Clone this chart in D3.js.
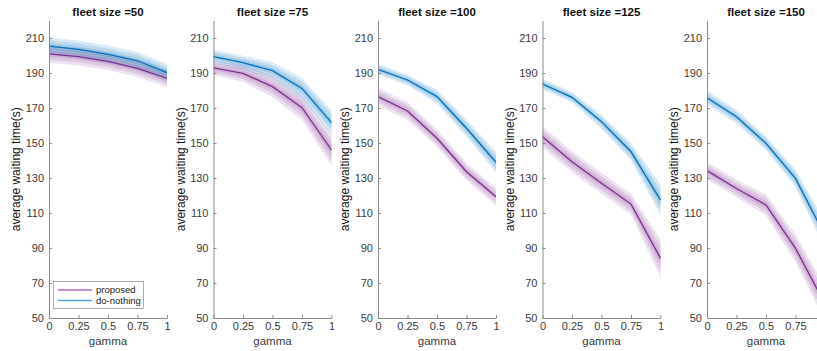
<!DOCTYPE html>
<html>
<head>
<meta charset="utf-8">
<script src="https://cdn.jsdelivr.net/npm/d3@7"></script>
<style>
  html, body { margin: 0; padding: 0; background: #fff; overflow: hidden; }
  svg { display: block; font-family: "Liberation Sans", Arial, Helvetica, sans-serif; }
</style>
</head>
<body>
<svg id="chart" width="817" height="351"></svg>
<script>
// gamma values shared by every panel
const gammas = [0, 0.25, 0.5, 0.75, 1];
const gammaTicks = ["0", "0.25", "0.5", "0.75", "1"];
const fleetSizes = [50, 75, 100, 125, 150];
const yTicks = [50, 70, 90, 110, 130, 150, 170, 190, 210];

// mean waiting time (s), one row per fleet size
const proposedMean = [
  [200.9, 199.3, 196.7, 192.7, 187.0],
  [192.9, 189.8, 182.2, 170.2, 146.0],
  [176.5, 168.3, 152.7, 133.6, 119.3],
  [153.6, 139.3, 127.0, 115.1, 84.1],
  [134.2, 124.0, 114.6, 89.8, 58.0]
];
const doNothingMean = [
  [205.4, 203.5, 200.7, 197.0, 190.2],
  [199.3, 195.9, 191.3, 181.2, 161.6],
  [192.1, 186.0, 176.5, 158.4, 139.0],
  [183.7, 176.1, 162.2, 145.0, 117.4],
  [175.9, 165.0, 149.8, 129.8, 97.0]
];
// half-width of the widest spread band (s)
const proposedSpread = [
  [5, 5, 5, 5, 5],
  [4, 5, 6, 7, 9],
  [5, 5, 5, 5, 5],
  [6, 6, 6, 6, 11],
  [5, 5, 6, 8, 10]
];
const doNothingSpread = [
  [5, 5, 5, 5, 5],
  [4, 4, 5, 6, 7],
  [3, 3, 4, 5, 6],
  [3, 3, 4, 5, 9],
  [4, 4, 4, 5, 8]
];

const seriesNames = ["proposed", "do-nothing"];
const lineColors = ["#7E2F8E", "#0072BD"];
const legendColors = ["#b26cc2", "#4ea6de"];
// nested band levels drawn from the widest spread inwards
const bandLevels = [1, 0.66, 0.33];

const svg = d3.select("#chart");
const panelLeft0 = 49, panelStep = 164.5, panelW = 118;
const plotTop = 20.5, plotBottom = 318;
const axisColor = "#8c8c8c", textColor = "#3a3a3a";

const y = d3.scaleLinear().domain([50, 220]).range([plotBottom, plotTop]);

fleetSizes.forEach((fs, i) => {
  const left = panelLeft0 + i * panelStep;
  const x = d3.scaleLinear().domain([0, 1]).range([left, left + panelW]);
  const g = svg.append("g");

  const series = [
    { mean: proposedMean[i], spread: proposedSpread[i], color: lineColors[0] },
    { mean: doNothingMean[i], spread: doNothingSpread[i], color: lineColors[1] }
  ];

  // spread bands
  series.forEach(s => {
    bandLevels.forEach(f => {
      const area = d3.area()
        .x((d, k) => x(gammas[k]))
        .y0((d, k) => y(d - s.spread[k] * f))
        .y1((d, k) => y(d + s.spread[k] * f));
      g.append("path")
        .attr("d", area(s.mean))
        .attr("fill", s.color)
        .attr("fill-opacity", 0.14)
        .attr("stroke", "none");
    });
  });

  // mean lines
  series.forEach(s => {
    const line = d3.line().x((d, k) => x(gammas[k])).y(d => y(d));
    g.append("path")
      .attr("d", line(s.mean))
      .attr("fill", "none")
      .attr("stroke", s.color)
      .attr("stroke-width", 1.3);
  });

  // axes (left and bottom only, ticks pointing inward)
  const xAxis = d3.axisBottom(x).tickValues(gammas)
    .tickFormat((d, k) => gammaTicks[k]).tickSizeInner(-3).tickSizeOuter(0).tickPadding(4);
  const gx = g.append("g").attr("transform", `translate(0,${plotBottom})`).call(xAxis);
  const yAxis = d3.axisLeft(y).tickValues(yTicks).tickSizeInner(-3).tickSizeOuter(0).tickPadding(5);
  const gy = g.append("g").attr("transform", `translate(${left},0)`).call(yAxis);
  [gx, gy].forEach(ax => {
    ax.select(".domain").attr("stroke", axisColor);
    ax.selectAll(".tick line").attr("stroke", axisColor);
    ax.selectAll(".tick text").attr("fill", textColor)
      .style("font-size", "11px").style("font-family", "'Liberation Sans', Arial, sans-serif");
  });

  // title
  g.append("text")
    .attr("x", left + panelW / 2).attr("y", 16)
    .attr("text-anchor", "middle")
    .style("font-size", "11.5px").style("font-weight", "bold")
    .attr("fill", "#111")
    .text(`fleet size =${fs}`);

  // axis labels
  g.append("text")
    .attr("x", left + panelW / 2).attr("y", 345)
    .attr("text-anchor", "middle")
    .style("font-size", "11.5px").attr("fill", textColor)
    .text("gamma");
  g.append("text")
    .attr("transform", `translate(${left - 29},${(plotTop + plotBottom) / 2}) rotate(-90)`)
    .attr("text-anchor", "middle")
    .style("font-size", "12px").attr("fill", "#111")
    .text("average waiting time(s)");

  // legend in the first panel
  if (i === 0) {
    const lg = g.append("g");
    lg.append("rect")
      .attr("x", 53.5).attr("y", 281.5).attr("width", 90).attr("height", 27)
      .attr("fill", "#fff").attr("stroke", "#9a9a9a").attr("stroke-width", 0.8);
    seriesNames.forEach((name, k) => {
      const ly = 290 + k * 10.5;
      lg.append("line")
        .attr("x1", 58).attr("x2", 92).attr("y1", ly).attr("y2", ly)
        .attr("stroke", legendColors[k]).attr("stroke-width", 1.5);
      lg.append("text")
        .attr("x", 96).attr("y", ly + 3.3)
        .style("font-size", "9.5px").attr("fill", "#222")
        .text(name);
    });
  }
});
</script>
</body>
</html>
